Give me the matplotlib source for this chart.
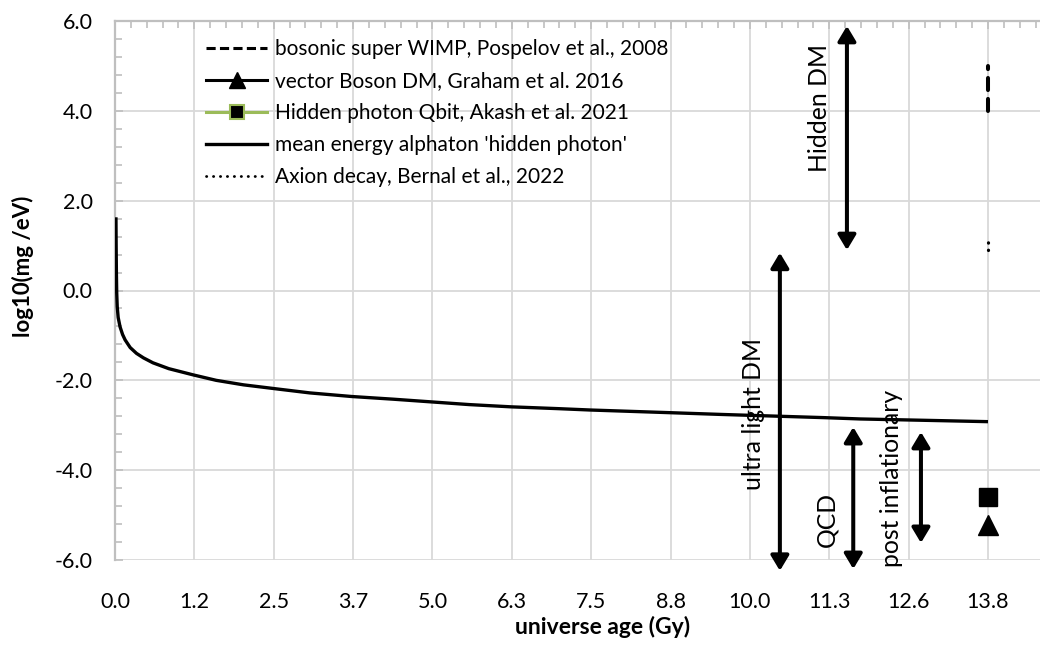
import matplotlib

matplotlib.use("Agg")
import matplotlib.pyplot as plt
from matplotlib.lines import Line2D
from matplotlib.ticker import FixedLocator, MultipleLocator

plt.rcParams["font.family"] = ["Lato", "DejaVu Sans"]
plt.rcParams["axes.unicode_minus"] = False

# mean energy of the alphaton 'hidden photon' vs universe age
age_gy = [0.015, 0.018, 0.022, 0.027, 0.035, 0.05, 0.08, 0.12, 0.16, 0.24, 0.34,
          0.45, 0.6, 0.85, 1.24, 1.6, 2.03, 2.61, 3.08, 3.74, 4.4, 5.0, 5.6,
          6.26, 7.0, 7.5, 8.77, 9.6, 10.51, 11.2, 11.78, 12.8, 13.8]
log_mass = [1.63, 1.0, 0.4, -0.05, -0.36, -0.6, -0.81, -0.98, -1.10, -1.27, -1.40,
            -1.50, -1.61, -1.74, -1.88, -2.00, -2.10, -2.20, -2.28, -2.36, -2.42, -2.48, -2.54,
            -2.59, -2.63, -2.66, -2.72, -2.76, -2.80, -2.83, -2.86, -2.89, -2.92]

# literature points, all placed at today's age
now_gy = 13.8
wimp_range = [4.0, 5.0]          # bosonic super WIMP, Pospelov et al. 2008
axion_range = [0.9, 1.2]         # Axion decay, Bernal et al. 2022
graham_val = -5.22               # vector Boson DM, Graham et al. 2016
akash_val = -4.60                # Hidden photon Qbit, Akash et al. 2021

# category-style x axis: 12 labelled ticks from 0 to 13.8 Gy
x_ticks = [now_gy * i / 11 for i in range(12)]
x_labels = ["0.0", "1.2", "2.5", "3.7", "5.0", "6.3", "7.5", "8.8", "10.0", "11.3", "12.6", "13.8"]
y_ticks = [6, 4, 2, 0, -2, -4, -6]
y_labels = ["6.0", "4.0", "2.0", "0.0", "-2.0", "-4.0", "-6.0"]

# (label, x, y_low, y_high, text_x, text_y)
ranges = [
    ("Hidden DM", 11.57, 0.90, 5.89, 11.13, 4.06),
    ("ultra light DM", 10.51, -6.24, 0.84, 10.09, -2.75),
    ("QCD", 11.67, -6.20, -3.04, 11.26, -5.10),
    ("post inflationary", 12.74, -5.62, -3.15, 12.28, -4.18),
]

W, H = 1040, 645
fig = plt.figure(figsize=(W / 100, H / 100), dpi=100)
ax = fig.add_axes([115 / W, 1 - 560 / H, (W - 115) / W, 539 / H])
ax.set_xlim(0, (W - 115) / ((988 - 115) / now_gy))
ax.set_ylim(-6, 6)

grid_c = "#D9D9D9"
axis_c = "#BFBFBF"
for xt in x_ticks:
    ax.axvline(xt, color=grid_c, lw=1.3, zorder=0)
for yt in y_ticks:
    ax.axhline(yt, color=grid_c, lw=1.3, zorder=0)

for side in ("right", "bottom"):
    ax.spines[side].set_visible(False)
for side in ("left", "top"):
    ax.spines[side].set_color(axis_c)
    ax.spines[side].set_linewidth(1.6)

ax.xaxis.set_major_locator(FixedLocator(x_ticks))
ax.set_xticklabels(x_labels)
ax.xaxis.set_minor_locator(MultipleLocator(now_gy / 55))
ax.tick_params(axis="x", which="both", top=True, bottom=False, labeltop=False,
               labelbottom=True, direction="in", color=axis_c, width=1.2)
ax.tick_params(axis="x", which="major", length=6, pad=23, labelsize=15.5)
ax.tick_params(axis="x", which="minor", length=5)

ax.yaxis.set_major_locator(FixedLocator(y_ticks))
ax.set_yticklabels(y_labels)
ax.yaxis.set_minor_locator(MultipleLocator(0.4))
ax.tick_params(axis="y", which="both", left=True, right=False, direction="in",
               color=axis_c, width=1.2)
ax.tick_params(axis="y", which="major", length=6, pad=16, labelsize=15.5)
ax.tick_params(axis="y", which="minor", length=5)

# data series
ax.plot(age_gy, log_mass, color="black", lw=2.4, solid_capstyle="butt", zorder=3)
ax.plot([now_gy] * 2, wimp_range, color="black", lw=2.9, dashes=(3.0, 2.2),
        dash_capstyle="round", zorder=3)
ax.plot([now_gy] * 2, axion_range, color="black", lw=2.3, dashes=(0.1, 2.2),
        dash_capstyle="round", zorder=3)
ax.plot([now_gy], [graham_val], marker="^", ms=14, color="black", ls="none", zorder=4)
ax.plot([now_gy], [akash_val], marker="s", ms=13, mfc="black", mec="black",
        ls="none", zorder=4)

# mass ranges of the dark-matter candidates
for label, x, lo, hi, tx, ty in ranges:
    ax.annotate("", xy=(x, hi), xytext=(x, lo), annotation_clip=False,
                arrowprops=dict(arrowstyle="<|-|>,head_length=0.75,head_width=0.45",
                                mutation_scale=12, lw=2.9, color="black",
                                shrinkA=0, shrinkB=0), zorder=5)
    ax.text(tx, ty, label, rotation=90, ha="center", va="center", fontsize=17.8,
            clip_on=False, zorder=6)

handles = [
    Line2D([], [], color="black", lw=2.2, dashes=(3.0, 1.4)),
    Line2D([], [], color="black", lw=2.2, marker="^", ms=11),
    Line2D([], [], color="#9BBB59", lw=2.2, marker="s", ms=10, mfc="black",
           mec="#9BBB59", mew=1.5),
    Line2D([], [], color="black", lw=2.4),
    Line2D([], [], color="black", lw=2.0, dashes=(0.1, 2.4), dash_capstyle="round"),
]
labels = [
    "bosonic super WIMP, Pospelov et al., 2008",
    "vector Boson DM, Graham et al. 2016",
    "Hidden photon Qbit, Akash et al. 2021",
    "mean energy alphaton 'hidden photon'",
    "Axion decay, Bernal et al., 2022",
]
fig.legend(handles, labels, loc="upper left", bbox_to_anchor=(206 / W, 1 - 39 / H),
           frameon=False, fontsize=15, handlelength=2.95, handletextpad=0.35,
           labelspacing=0.58, borderpad=0, borderaxespad=0)

fig.text(603 / W, 1 - 627 / H, "universe age (Gy)", ha="center", va="center",
         fontsize=16.5, fontweight="bold")
fig.text(23 / W, 1 - 266 / H, "log10(mg /eV)", ha="center", va="center",
         rotation=90, fontsize=16, fontweight="bold")

fig.savefig("out.png", dpi=100)
